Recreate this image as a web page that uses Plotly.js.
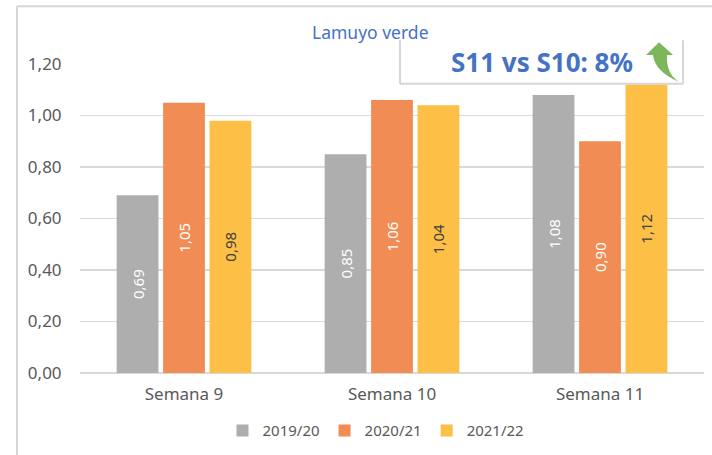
<!DOCTYPE html>
<html>
<head>
<meta charset="utf-8">
<script src="https://cdn.plot.ly/plotly-3.0.1.min.js"></script>
<style>html,body{margin:0;padding:0;background:#fff;}#chart{width:712px;height:455px;}</style>
</head>
<body>
<div id="chart"></div>
<script>
const categories = ['Semana 9', 'Semana 10', 'Semana 11'];
const seriesNames = ['2019/20', '2020/21', '2021/22'];
const values2019 = [0.69, 0.85, 1.08];
const values2020 = [1.05, 1.06, 0.90];
const values2021 = [0.98, 1.04, 1.12];
const yTicks = [0, 0.2, 0.4, 0.6, 0.8, 1.0, 1.2];
const titleText = 'Lamuyo verde';
const calloutText = 'S11 vs S10: 8%';

const FONT = 'Noto Sans, DejaVu Sans, sans-serif';
const W = 712, H = 455;
const M = {l: 80, r: 8, t: 64, b: 80};
const PW = W - M.l - M.r, PH = H - M.t - M.b;
const px = x => (x - M.l) / PW;
const py = y => (H - M.b - y) / PH;

const colors = ['#AEAEAE', '#F08C54', '#FDBF45'];
const textColors = ['#ffffff', '#ffffff', '#404040'];
const allValues = [values2019, values2020, values2021];

const traces = allValues.map((vals, i) => ({
  type: 'bar',
  name: seriesNames[i],
  x: categories,
  y: vals,
  marker: {color: colors[i], line: {width: 0}},
  texttemplate: '%{y:.2f}',
  textposition: 'inside',
  insidetextanchor: 'middle',
  textangle: -90,
  textfont: {family: FONT, size: 15, color: textColors[i]},
  hoverinfo: 'skip'
}));

function pathFromPx(pts) {
  return pts.map((p, i) => {
    if (p[0] === 'Q') return 'Q' + px(p[1]) + ',' + py(p[2]) + ' ' + px(p[3]) + ',' + py(p[4]);
    return (i === 0 ? 'M' : 'L') + px(p[0]) + ',' + py(p[1]);
  }).join(' ') + ' Z';
}

const arrowPath = pathFromPx([
  [659, 42], [673, 55], [667, 55], ['Q', 666, 74, 679, 82], ['Q', 655, 72, 653, 55], [646, 55]
]);

const lineStyle = {color: '#D6D6D6', width: 2};
const shapes = [
  // outer frame (top + left)
  {type: 'line', xref: 'paper', yref: 'paper', x0: px(17), x1: px(720), y0: py(6), y1: py(6), line: lineStyle},
  {type: 'line', xref: 'paper', yref: 'paper', x0: px(17), x1: px(17), y0: py(6), y1: py(460), line: lineStyle},
  // callout box (left, bottom, right)
  {type: 'line', xref: 'paper', yref: 'paper', x0: px(400), x1: px(400), y0: py(40), y1: py(84), line: lineStyle},
  {type: 'line', xref: 'paper', yref: 'paper', x0: px(400), x1: px(683), y0: py(84), y1: py(84), line: lineStyle},
  {type: 'line', xref: 'paper', yref: 'paper', x0: px(683), x1: px(683), y0: py(40), y1: py(84), line: lineStyle},
  // green arrow
  {type: 'path', xref: 'paper', yref: 'paper', path: arrowPath, fillcolor: '#7DB75B', line: {width: 0}}
];

const layout = {
  width: W, height: H,
  margin: M,
  paper_bgcolor: '#ffffff',
  plot_bgcolor: '#ffffff',
  separators: ',.',
  barmode: 'group',
  bargap: 0.33,
  bargroupgap: 0.1,
  showlegend: true,
  legend: {
    orientation: 'h', x: px(376), xanchor: 'center', y: py(433), yanchor: 'middle',
    font: {family: FONT, size: 15, color: '#595959'},
    itemwidth: 30, traceorder: 'normal'
  },
  xaxis: {
    type: 'category',
    tickfont: {family: FONT, size: 17, color: '#595959'},
    ticks: 'outside', ticklen: 6, tickcolor: 'rgba(0,0,0,0)',
    showline: false, showgrid: false, zeroline: false
  },
  yaxis: {
    range: [0, 1.2],
    tickvals: yTicks,
    tickformat: '.2f',
    tickfont: {family: FONT, size: 17, color: '#595959'},
    ticks: 'outside', ticklen: 14, tickcolor: 'rgba(0,0,0,0)',
    showgrid: true, gridcolor: '#D9D9D9', gridwidth: 1.5,
    zeroline: true, zerolinecolor: '#D9D9D9', zerolinewidth: 1.5,
    showline: false, fixedrange: true
  },
  shapes: shapes,
  annotations: [
    {text: titleText, xref: 'paper', yref: 'paper', x: px(370), y: py(32), xanchor: 'center', yanchor: 'middle',
     showarrow: false, font: {family: FONT, size: 17.5, color: '#4472C4'}},
    {text: '<b>' + calloutText + '</b>', xref: 'paper', yref: 'paper', x: px(542), y: py(62), xanchor: 'center', yanchor: 'middle',
     showarrow: false, font: {family: FONT, size: 26, color: '#4472C4'}}
  ]
};

Plotly.newPlot('chart', traces, layout, {displayModeBar: false, staticPlot: true});
</script>
</body>
</html>
